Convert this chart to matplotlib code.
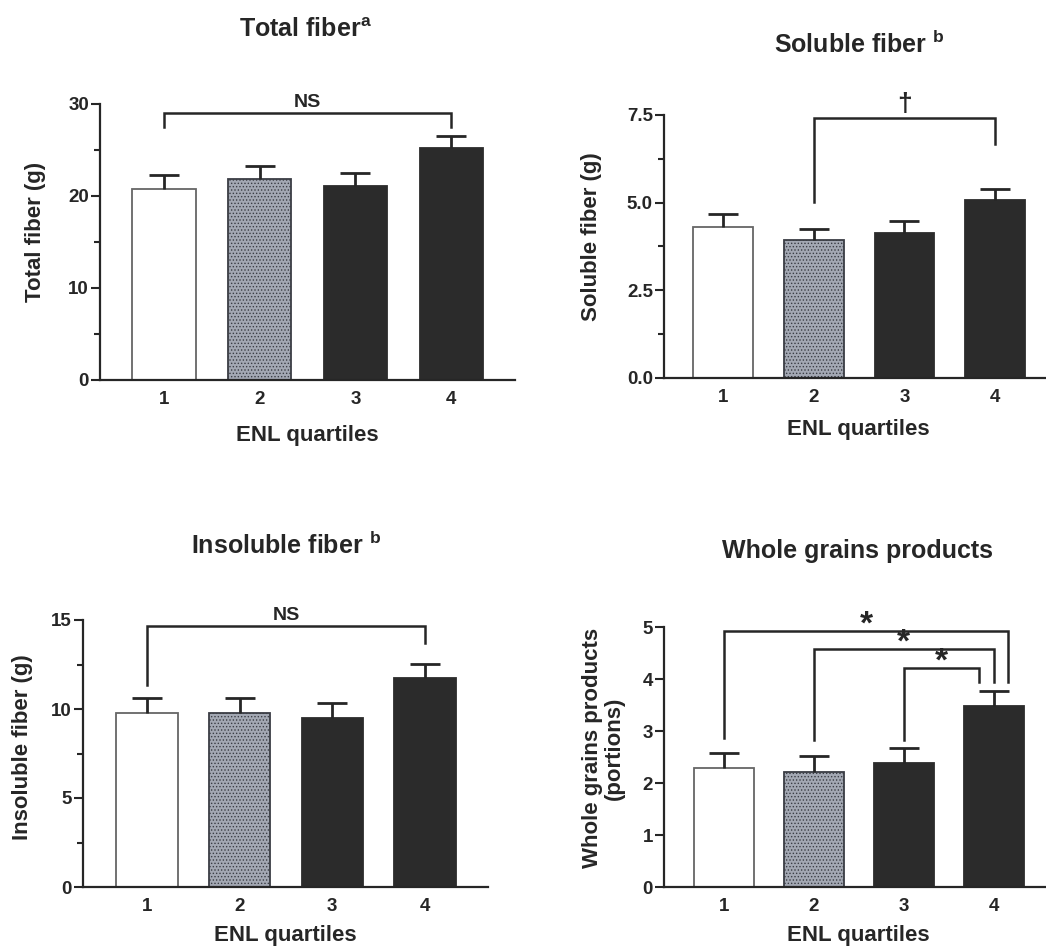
import numpy as np
import matplotlib
matplotlib.use("Agg")
import matplotlib.pyplot as plt

# data
quartiles = [1, 2, 3, 4]
quartile_labels = ["1", "2", "3", "4"]

total_fiber = [20.8, 21.9, 21.05, 25.2]
total_fiber_sem = [1.5, 1.4, 1.45, 1.3]

soluble_fiber = [4.30, 3.94, 4.13, 5.08]
soluble_fiber_sem = [0.37, 0.32, 0.34, 0.32]

insoluble_fiber = [9.80, 9.76, 9.48, 11.73]
insoluble_fiber_sem = [0.84, 0.85, 0.85, 0.82]

whole_grains = [2.28, 2.22, 2.39, 3.48]
whole_grains_sem = [0.30, 0.29, 0.29, 0.28]

# brackets: (x_left, x_right, y_bar, y_left_end, y_right_end, label)
total_brackets = [(1, 4, 29.07, 27.55, 27.55, "NS")]
soluble_brackets = [(2, 4, 7.42, 5.01, 6.66, "\u2020")]
insoluble_brackets = [(1, 4, 14.68, 11.35, 13.69, "NS")]
grains_brackets = [
    (1, 4.16, 4.92, 2.86, 3.94, "*"),
    (2, 4.0, 4.58, 2.83, 3.94, "*"),
    (3, 3.84, 4.22, 2.83, 3.94, "*"),
]

W, H = 1046, 952
INK = "#262626"
BAR_COLORS = ["white", "#a3a8b3", "#2b2b2b", "#2b2b2b"]
BAR_EDGES = ["#666666", "#3a3d44", "#2b2b2b", "#2b2b2b"]

plt.rcParams["font.family"] = ["Liberation Sans", "DejaVu Sans"]
plt.rcParams["font.weight"] = "bold"
plt.rcParams["mathtext.fontset"] = "custom"
plt.rcParams["mathtext.rm"] = "Liberation Sans:bold"
plt.rcParams["mathtext.it"] = "Liberation Sans:bold"
plt.rcParams["mathtext.bf"] = "Liberation Sans:bold"
plt.rcParams["hatch.linewidth"] = 0.6
plt.rcParams["text.color"] = INK


def fx(x):
    return x / W


def fy(y):
    return 1 - y / H


def make_axes(fig, left, top, right, bottom):
    return fig.add_axes([fx(left), fy(bottom), fx(right - left), (bottom - top) / H])


def draw_panel(ax, vals, sems, ylim, yticks, minor, fmt, xlim, brackets,
               label_size, label_offset):
    for i in range(4):
        ax.bar(quartiles[i], vals[i], width=0.66, color=BAR_COLORS[i],
               edgecolor=BAR_EDGES[i], linewidth=1.3,
               hatch="....." if i == 1 else None, zorder=2)
    _, caps, _ = ax.errorbar(quartiles, vals, yerr=[np.zeros(4), sems],
                             fmt="none", ecolor=INK, elinewidth=2, capsize=11,
                             capthick=2, zorder=3)
    # only keep the upper caps
    for c in caps:
        if np.allclose(c.get_ydata(), vals):
            c.set_visible(False)

    ax.set_xlim(*xlim)
    ax.set_ylim(*ylim)
    ax.set_xticks(quartiles)
    ax.set_xticklabels(quartile_labels)
    ax.set_yticks(yticks)
    ax.set_yticklabels([fmt.format(t) for t in yticks])
    if minor:
        ax.set_yticks(minor, minor=True)

    for s in ["top", "right"]:
        ax.spines[s].set_visible(False)
    for s in ["left", "bottom"]:
        ax.spines[s].set_linewidth(1.6)
        ax.spines[s].set_color(INK)
    ax.tick_params(axis="x", length=0, pad=8, labelsize=13.5, colors=INK)
    ax.tick_params(axis="y", which="major", length=6.5, width=1.5, pad=1.5,
                   labelsize=13.5, colors=INK)
    ax.tick_params(axis="y", which="minor", length=4.3, width=1.5, colors=INK)
    for lab in ax.get_xticklabels() + ax.get_yticklabels():
        lab.set_fontweight("bold")

    for x1, x2, yb, yl, yr, lab in brackets:
        ax.plot([x1, x1, x2, x2], [yl, yb, yb, yr], color=INK, lw=1.8,
                clip_on=False, solid_joinstyle="miter", zorder=4)
        ax.annotate(lab, xy=((x1 + x2) / 2, yb), xytext=(0, label_offset),
                    textcoords="offset points", ha="center", va="baseline",
                    fontsize=label_size, fontweight="bold", color=INK,
                    annotation_clip=False)


fig = plt.figure(figsize=(W / 100, H / 100), dpi=100)

# top-left: total fiber
ax1 = make_axes(fig, 100, 104, 515, 380)
draw_panel(ax1, total_fiber, total_fiber_sem, (0, 30), [0, 10, 20, 30],
           [5, 15, 25], "{:.0f}", (0.331, 4.667), total_brackets, 14, 4)

# top-right: soluble fiber
ax2 = make_axes(fig, 664, 115, 1046, 378)
draw_panel(ax2, soluble_fiber, soluble_fiber_sem, (0, 7.5), [0, 2.5, 5.0, 7.5],
           [1.25, 3.75, 6.25], "{:.1f}", (0.35, 4.56), soluble_brackets, 19, 5)

# bottom-left: insoluble fiber
ax3 = make_axes(fig, 83, 620, 488, 887)
draw_panel(ax3, insoluble_fiber, insoluble_fiber_sem, (0, 15), [0, 5, 10, 15],
           [2.5, 7.5, 12.5], "{:.0f}", (0.31, 4.68), insoluble_brackets, 14, 4)

# bottom-right: whole grains
ax4 = make_axes(fig, 664, 627, 1046, 887)
draw_panel(ax4, whole_grains, whole_grains_sem, (0, 5), [0, 1, 2, 3, 4, 5],
           None, "{:.0f}", (0.333, 4.58), grains_brackets, 24, -2)

# titles
title_kw = dict(ha="center", va="center", fontsize=18, fontweight="bold")
fig.text(fx(305), fy(30), r"Total fiber$^{a}$", **title_kw)
fig.text(fx(859), fy(44), r"Soluble fiber $^{b}$", **title_kw)
fig.text(fx(286), fy(545), r"Insoluble fiber $^{b}$", **title_kw)
fig.text(fx(857), fy(551), "Whole grains products", **title_kw)

# x labels
xl_kw = dict(ha="center", va="center", fontsize=16, fontweight="bold")
fig.text(fx(307), fy(436), "ENL quartiles", **xl_kw)
fig.text(fx(858), fy(430), "ENL quartiles", **xl_kw)
fig.text(fx(285), fy(935), "ENL quartiles", **xl_kw)
fig.text(fx(858), fy(936), "ENL quartiles", **xl_kw)

# y labels
yl_kw = dict(ha="center", va="center", fontsize=16, fontweight="bold",
             rotation=90)
fig.text(fx(36), fy(232), "Total fiber (g)", **yl_kw)
fig.text(fx(592), fy(237), "Soluble fiber (g)", **yl_kw)
fig.text(fx(23), fy(747), "Insoluble fiber (g)", **yl_kw)
fig.text(fx(603), fy(748), "Whole grains products\n(portions)",
         multialignment="center", linespacing=1.05, **yl_kw)

fig.savefig("out.png", dpi=100)
